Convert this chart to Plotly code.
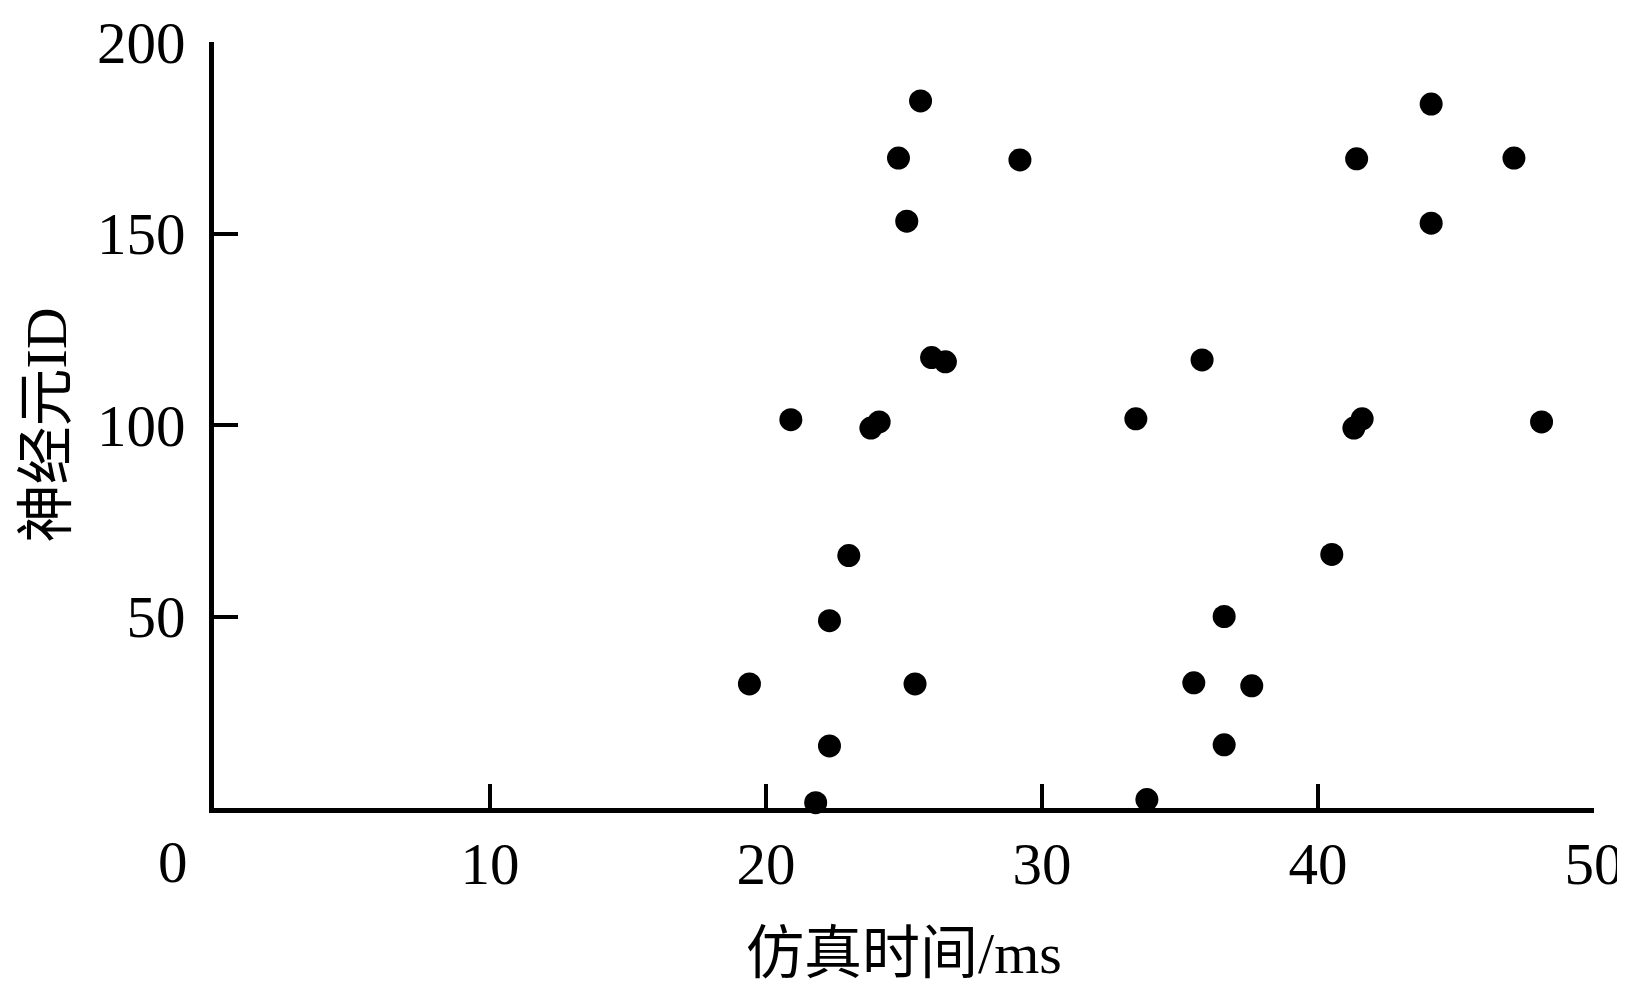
import plotly.graph_objects as go

spike_time = [19.4, 20.9, 21.8, 22.3, 22.3, 23.0, 23.8, 24.1, 24.8, 25.1,
              25.4, 25.6, 26.0, 26.5, 29.2, 33.4, 33.8, 35.5, 35.8, 36.6,
              36.6, 37.6, 40.5, 41.3, 41.4, 41.6, 44.1, 44.1, 47.1, 48.1]
neuron_id = [32.4, 101.4, 1.4, 48.9, 16.2, 65.9, 99.2, 100.8, 169.7, 153.2,
             32.4, 184.6, 117.6, 116.5, 169.2, 101.6, 2.2, 32.7, 117.0, 50.0,
             16.5, 31.9, 66.2, 99.2, 169.5, 101.6, 183.8, 152.7, 169.7, 100.8]

x_ticks = [0, 10, 20, 30, 40, 50]
x_ticktext = ["", "10", "20", "30", "40", "50"]
y_ticks = [0, 50, 100, 150, 200]
y_ticktext = ["", "50", "100", "150", "200"]

FONT = "Liberation Serif, Times New Roman, Noto Sans CJK SC, serif"

fig = go.Figure()
fig.add_trace(go.Scatter(
    x=spike_time, y=neuron_id, mode="markers",
    marker=dict(color="black", size=23, line=dict(width=0)),
    cliponaxis=False, showlegend=False,
))

# page body has an 8px default margin, so the figure is offset to fit inside it
fig.update_layout(
    template="none",
    width=1617, height=978,
    margin=dict(l=206, r=31, t=34, b=178),
    paper_bgcolor="white", plot_bgcolor="white",
    font=dict(family=FONT, color="black", size=59),
)
fig.update_xaxes(
    range=[0, 50], tickvals=x_ticks, ticktext=x_ticktext, automargin=False,
    showline=True, linecolor="black", linewidth=4.5,
    ticks="inside", ticklen=24, tickwidth=4, tickcolor="black",
    showgrid=False, zeroline=False, ticklabelstandoff=0,
    ticklabeloverflow="allow",
    tickfont=dict(size=59, family=FONT),
    title=dict(text="仿真时间/ms", font=dict(size=58, family=FONT), standoff=42),
)
fig.update_yaxes(
    range=[0, 200], tickvals=y_ticks, ticktext=y_ticktext, automargin=False,
    showline=True, linecolor="black", linewidth=4.5,
    ticks="inside", ticklen=24, tickwidth=4, tickcolor="black",
    showgrid=False, zeroline=False, ticklabelstandoff=12,
    tickfont=dict(size=59, family=FONT),
    title=dict(text="神经元ID", font=dict(size=58, family=FONT), standoff=13),
)
fig.add_annotation(
    text="0", xref="paper", yref="paper", x=-41 / 1380, y=-54 / 766,
    xanchor="center", yanchor="middle", showarrow=False,
    font=dict(size=59, family=FONT, color="black"),
)
fig.write_html("out.html")
